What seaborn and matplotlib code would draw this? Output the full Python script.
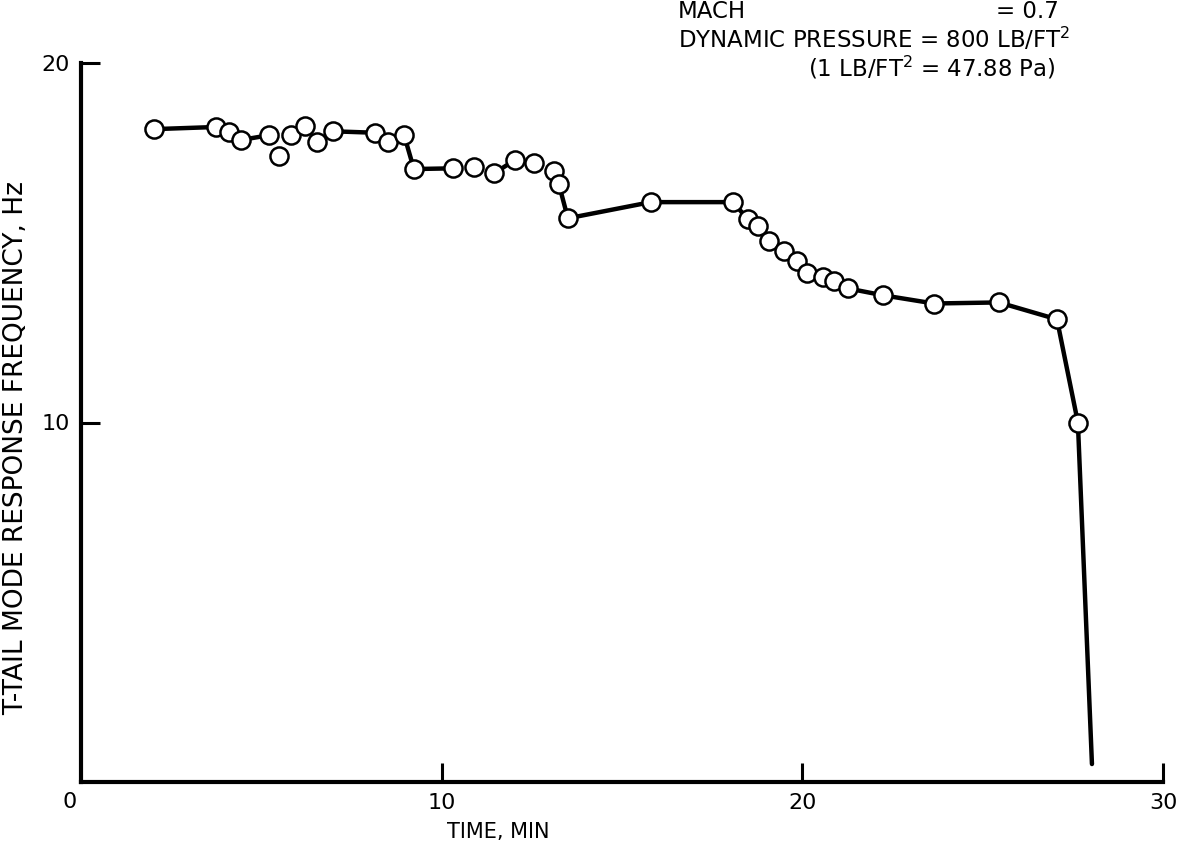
import matplotlib
matplotlib.use("Agg")
import matplotlib.pyplot as plt
import seaborn as sns
import pandas as pd

# measured points (time in min, frequency in Hz)
time_min = [2.02, 3.74, 4.10, 4.44, 5.21, 5.49, 5.82, 6.21, 6.54, 6.99,
            8.15, 8.51, 8.96, 9.23, 10.31, 10.90, 11.45, 12.03, 12.56, 13.11,
            13.25, 13.50, 15.80, 18.08, 18.49, 18.77, 19.07, 19.49, 19.85, 20.13,
            20.57, 20.88, 21.26, 22.23, 23.65, 25.45, 27.06, 27.64]
freq_hz = [18.16, 18.22, 18.08, 17.86, 17.99, 17.41, 17.99, 18.25, 17.81, 18.10,
           18.06, 17.80, 17.99, 17.05, 17.07, 17.10, 16.93, 17.30, 17.21, 16.99,
           16.63, 15.68, 16.13, 16.13, 15.65, 15.46, 15.04, 14.76, 14.48, 14.15,
           14.04, 13.93, 13.73, 13.54, 13.31, 13.34, 12.87, 10.00]

# faired line segments drawn through the points
line_seg = ["a"] * 5 + ["b"] * 6 + ["c"] * 2 + ["d"] * 20
line_t = [2.02, 3.74, 4.10, 4.44, 5.21,
          6.99, 8.15, 8.51, 8.96, 9.23, 10.31,
          11.45, 12.03,
          13.11, 13.25, 13.50, 15.80, 18.08, 18.49, 18.77, 19.07, 19.49, 19.85,
          20.13, 20.57, 20.88, 21.26, 22.23, 23.65, 25.45, 27.06, 27.64, 28.03]
line_f = [18.16, 18.22, 18.08, 17.86, 17.99,
          18.10, 18.06, 17.80, 17.99, 17.05, 17.07,
          16.93, 17.30,
          16.99, 16.63, 15.68, 16.13, 16.13, 15.65, 15.46, 15.04, 14.76, 14.48,
          14.15, 14.04, 13.93, 13.73, 13.54, 13.31, 13.34, 12.87, 10.00, 0.50]

pts = pd.DataFrame({"t": time_min, "f": freq_hz})
line = pd.DataFrame({"seg": line_seg, "t": line_t, "f": line_f})

sns.set_style("ticks")
plt.rcParams["font.family"] = ["DejaVu Sans"]
plt.rcParams["text.color"] = "black"
plt.rcParams["axes.labelcolor"] = "black"

fig = plt.figure(figsize=(11.93, 8.52), dpi=100)
ax = fig.add_axes([81 / 1193, (852 - 782) / 852, (1163 - 81) / 1193, (782 - 63) / 852])

sns.lineplot(data=line, x="t", y="f", units="seg", estimator=None,
             color="black", lw=3.2, sort=False, ax=ax, legend=False)
sns.scatterplot(data=pts, x="t", y="f", ax=ax, s=170, marker="o",
                facecolor="white", edgecolor="black", linewidth=1.8, zorder=5)

ax.set_xlim(0, 30)
ax.set_ylim(0, 20)
ax.set_xticks([0, 10, 20, 30])
ax.set_xticklabels(["", "10", "20", "30"])
ax.set_yticks([0, 10, 20])
ax.set_yticklabels(["", "10", "20"])
ax.tick_params(axis="both", direction="in", length=14, width=2.2,
               labelsize=16, colors="black")
ax.tick_params(axis="x", pad=8)
ax.tick_params(axis="y", pad=8)
ax.xaxis.get_major_ticks()[0].tick1line.set_visible(False)
ax.yaxis.get_major_ticks()[0].tick1line.set_visible(False)

for side in ["top", "right"]:
    ax.spines[side].set_visible(False)
for side in ["left", "bottom"]:
    ax.spines[side].set_linewidth(3)
    ax.spines[side].set_color("black")

# shared origin label, sits a little left of the corner
fig.text(70 / 1193, 1 - 802 / 852, "0", fontsize=16, ha="center", va="center")

ax.set_xlabel("TIME, MIN", fontsize=15)
ax.xaxis.set_label_coords(0.386, -0.056)
ax.set_ylabel("T-TAIL MODE RESPONSE FREQUENCY, Hz", fontsize=19)
ax.yaxis.set_label_coords(-0.048, 0.464)

fig.text(678 / 1193, 1 - 12 / 852, "MACH", fontsize=16.5, va="center")
fig.text(996 / 1193, 1 - 12 / 852, "= 0.7", fontsize=16.5, va="center")
fig.text(678 / 1193, 1 - 39 / 852, "DYNAMIC PRESSURE = 800 LB/FT$^\\mathregular{2}$",
         fontsize=16.5, va="center")
fig.text(808 / 1193, 1 - 68 / 852, "(1 LB/FT$^\\mathregular{2}$ = 47.88 Pa)",
         fontsize=16.5, va="center")

fig.savefig("out.png", dpi=100)
